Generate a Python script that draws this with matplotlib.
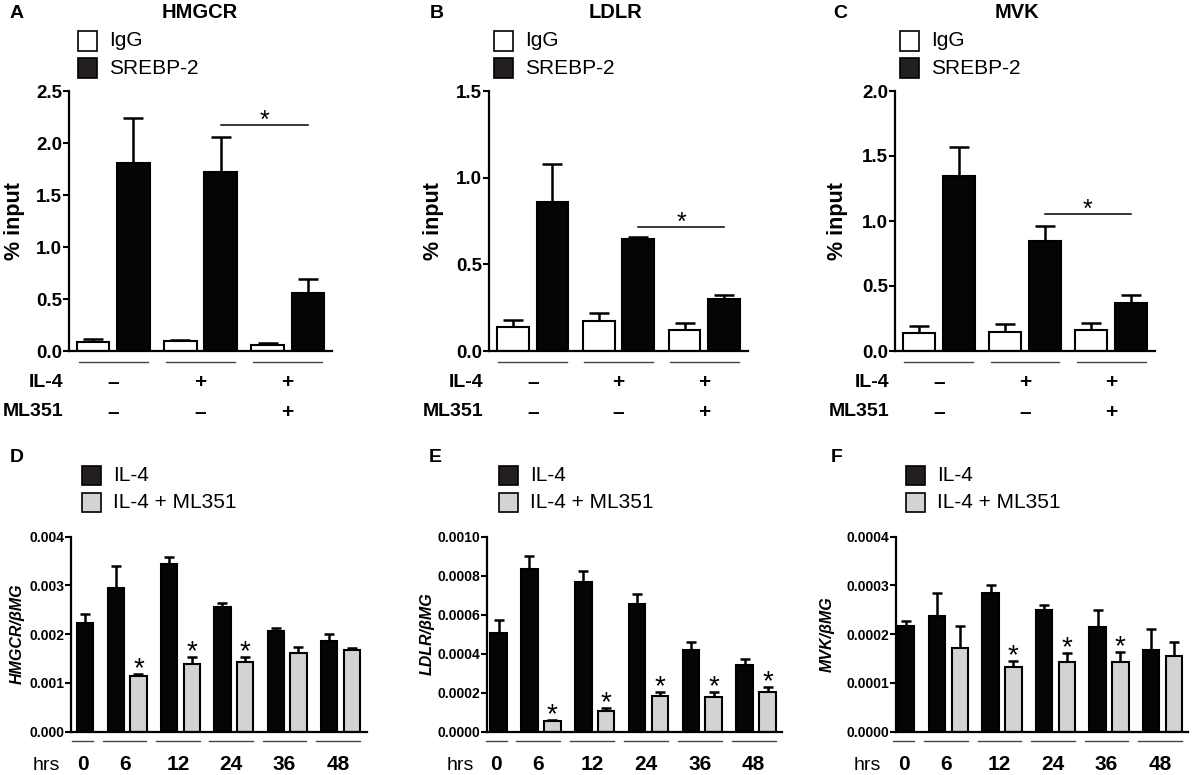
import numpy as np
import matplotlib
matplotlib.use("Agg")
import matplotlib.pyplot as plt
import matplotlib.transforms as mtransforms
from matplotlib.patches import Rectangle
from matplotlib.ticker import FormatStrFormatter, MultipleLocator

plt.rcParams['font.family'] = ['Liberation Sans', 'DejaVu Sans']

# ---------------- data ----------------
top_genes = ['HMGCR', 'LDLR', 'MVK']
top_letters = ['A', 'B', 'C']
il4_row = ['–', '+', '+']
ml351_row = ['–', '–', '+']

hmgcr_igg = [0.09, 0.10, 0.06]
hmgcr_igg_sem = [0.03, 0.01, 0.015]
hmgcr_srebp = [1.81, 1.72, 0.56]
hmgcr_srebp_sem = [0.43, 0.34, 0.13]

ldlr_igg = [0.137, 0.174, 0.12]
ldlr_igg_sem = [0.04, 0.044, 0.044]
ldlr_srebp = [0.86, 0.647, 0.30]
ldlr_srebp_sem = [0.22, 0.008, 0.025]

mvk_igg = [0.14, 0.146, 0.16]
mvk_igg_sem = [0.05, 0.064, 0.055]
mvk_srebp = [1.344, 0.85, 0.37]
mvk_srebp_sem = [0.226, 0.11, 0.06]

top_sig_y = [2.17, 0.716, 1.057]
top_ymax = [2.5, 1.5, 2.0]
top_ystep = [0.5, 0.5, 0.5]

hours = ['0', '6', '12', '24', '36', '48']
bottom_letters = ['D', 'E', 'F']
bottom_ylabels = ['HMGCR/βMG', 'LDLR/βMG', 'MVK/βMG']

hmgcr_il4 = [0.00222, 0.00294, 0.00344, 0.00256, 0.00207, 0.00187]
hmgcr_il4_sem = [0.00019, 0.00046, 0.00015, 0.00009, 0.00006, 0.00013]
hmgcr_ml = [np.nan, 0.00114, 0.00139, 0.00142, 0.00161, 0.00168]
hmgcr_ml_sem = [np.nan, 0.00004, 0.00015, 0.00012, 0.00013, 0.00003]
hmgcr_star = [False, True, True, True, False, False]

ldlr_il4 = [0.000505, 0.000833, 0.000766, 0.000653, 0.000419, 0.000342]
ldlr_il4_sem = [0.000068, 0.00007, 0.00006, 0.000053, 0.000039, 0.000031]
ldlr_ml = [np.nan, 0.000055, 0.000108, 0.000185, 0.00018, 0.000202]
ldlr_ml_sem = [np.nan, 0.000005, 0.000012, 0.00002, 0.000025, 0.000026]
ldlr_star = [False, True, True, True, True, True]

mvk_il4 = [0.000217, 0.000237, 0.000285, 0.00025, 0.000215, 0.000168]
mvk_il4_sem = [0.000011, 0.000047, 0.000016, 0.00001, 0.000035, 0.000042]
mvk_ml = [np.nan, 0.000172, 0.000133, 0.000144, 0.000144, 0.000156]
mvk_ml_sem = [np.nan, 0.000045, 0.000012, 0.000017, 0.000019, 0.000029]
mvk_star = [False, False, True, True, True, False]

bottom_ymax = [0.004, 0.0010, 0.0004]
bottom_ystep = [0.001, 0.0002, 0.0001]
bottom_fmt = ['%.3f', '%.4f', '%.4f']

# ---------------- layout helpers ----------------
W, H = 1192, 775
fig = plt.figure(figsize=(W / 100, H / 100), dpi=100)


def fx(x):
    return x / W


def fy(y):
    return 1 - y / H


def add_ax(l, r, t, b):
    return fig.add_axes([l / W, 1 - b / H, (r - l) / W, (b - t) / H])


def T(x, y, s, **kw):
    return fig.text(fx(x), fy(y), s, **kw)


BLACK = '#050505'
DARK = '#231f20'
GRAY = '#d3d3d3'


def style_axis(ax, fs):
    for s in ['top', 'right']:
        ax.spines[s].set_visible(False)
    for s in ['left', 'bottom']:
        ax.spines[s].set_linewidth(1.6)
    ax.tick_params(axis='y', direction='out', length=4, width=1.5, labelsize=fs, pad=1)
    ax.tick_params(axis='x', length=0, labelbottom=False)
    for lab in ax.get_yticklabels():
        lab.set_fontweight('bold')


def legend(x_box, y1, y2, labels, colors):
    for y, lab, c in zip([y1, y2], labels, colors):
        fig.patches.append(Rectangle((fx(x_box), fy(y + 9.5)), 19 / W, 19 / H,
                                     transform=fig.transFigure, facecolor=c,
                                     edgecolor='black', linewidth=1.2))
        T(x_box + 31, y, lab, fontsize=15, ha='left', va='center')


# ---------------- top row ----------------
top_igg = [hmgcr_igg, ldlr_igg, mvk_igg]
top_igg_sem = [hmgcr_igg_sem, ldlr_igg_sem, mvk_igg_sem]
top_sre = [hmgcr_srebp, ldlr_srebp, mvk_srebp]
top_sre_sem = [hmgcr_srebp_sem, ldlr_srebp_sem, mvk_srebp_sem]

top_axes_px = [(69, 332), (489, 748), (895, 1155)]
top_letter_x = [10, 430, 833]
top_title_x = [200, 615, 1017]
top_ylabel_x = [15, 433, 837]
top_legend_x = [78, 494, 900]

off = 0.23
bw = 0.37
for i in range(3):
    l, r = top_axes_px[i]
    ax = add_ax(l, r, 91, 351)
    xg = np.arange(3)
    ax.errorbar(xg - off, top_igg[i], yerr=[np.zeros(3), top_igg_sem[i]], fmt='none',
                ecolor='black', elinewidth=1.8, capsize=7, capthick=1.8, zorder=1)
    ax.errorbar(xg + off, top_sre[i], yerr=[np.zeros(3), top_sre_sem[i]], fmt='none',
                ecolor='black', elinewidth=1.8, capsize=7, capthick=1.8, zorder=1)
    ax.bar(xg - off, top_igg[i], width=bw, color='white', edgecolor='black', linewidth=1.5, zorder=2)
    ax.bar(xg + off, top_sre[i], width=bw, color=BLACK, edgecolor='black', linewidth=1.5, zorder=2)
    ax.set_xlim(-0.51, 2.51)
    ax.set_ylim(0, top_ymax[i])
    ax.yaxis.set_major_locator(MultipleLocator(top_ystep[i]))
    ax.yaxis.set_major_formatter(FormatStrFormatter('%.1f'))
    style_axis(ax, 13.5)
    # significance
    sy = top_sig_y[i]
    ax.plot([1 + off, 2 + off], [sy, sy], color='black', lw=1.1, clip_on=False)
    ax.annotate('*', xy=(1.5 + off, sy), xytext=(0, -2), textcoords='offset points',
                ha='center', va='baseline', fontsize=18)
    # condition rows
    trans = mtransforms.blended_transform_factory(ax.transData, fig.transFigure)
    for g in range(3):
        ax.plot([g - 0.4, g + 0.4], [fy(362), fy(362)], color='#444444', lw=1.0,
                transform=trans, clip_on=False)
        ax.text(g, fy(383), il4_row[g], transform=trans, ha='center', va='center',
                fontsize=15, fontweight='bold')
        ax.text(g, fy(412), ml351_row[g], transform=trans, ha='center', va='center',
                fontsize=15, fontweight='bold')
    T(l - 6, 383, 'IL-4', ha='right', va='center', fontsize=14, fontweight='bold')
    T(l - 6, 412, 'ML351', ha='right', va='center', fontsize=14, fontweight='bold')
    T(top_letter_x[i], 13, top_letters[i], ha='left', va='center', fontsize=14, fontweight='bold')
    T(top_title_x[i], 13, top_genes[i], ha='center', va='center', fontsize=14.5, fontweight='bold')
    T(top_ylabel_x[i], 221, '% input', ha='center', va='center', rotation=90,
      fontsize=15.5, fontweight='bold')
    legend(top_legend_x[i], 41, 68, ['IgG', 'SREBP-2'], ['white', DARK])

# ---------------- bottom row ----------------
bot_il4 = [hmgcr_il4, ldlr_il4, mvk_il4]
bot_il4_sem = [hmgcr_il4_sem, ldlr_il4_sem, mvk_il4_sem]
bot_ml = [hmgcr_ml, ldlr_ml, mvk_ml]
bot_ml_sem = [hmgcr_ml_sem, ldlr_ml_sem, mvk_ml_sem]
bot_star = [hmgcr_star, ldlr_star, mvk_star]

bot_axes_px = [(71, 367), (486.7, 781.7), (896, 1188)]
bot_margins = [(0.62, 0.67), (0.52, 0.62), (0.45, 0.62)]
bot_letter_x = [5, 424, 826]
bot_ylabel_x = [17, 427, 827]
bot_legend_x = [82, 499, 906]
bot_hrs_x = [46, 460, 867]

gap = 1.35
bwb = 0.72
for i in range(3):
    il4 = np.array(bot_il4[i], dtype=float)
    ml = np.array(bot_ml[i], dtype=float)
    pos_il4, pos_ml, centers, spans = [], [], [], []
    x = 0.0
    for k in range(len(hours)):
        pos_il4.append(x)
        if np.isnan(ml[k]):
            pos_ml.append(np.nan)
            last = x
        else:
            pos_ml.append(x + 1)
            last = x + 1
        spans.append((x - 0.57, last + 0.35))
        centers.append((x - 0.57 + last + 0.35) / 2)
        x = last + gap
    pos_il4 = np.array(pos_il4)
    pos_ml = np.array(pos_ml)
    ok = ~np.isnan(ml)

    l, r = bot_axes_px[i]
    ax = add_ax(l, r, 536.7, 731.7)
    ax.errorbar(pos_il4, il4, yerr=[np.zeros(len(il4)), bot_il4_sem[i]], fmt='none',
                ecolor='black', elinewidth=1.8, capsize=3.3, capthick=1.8, zorder=1)
    ax.errorbar(pos_ml[ok], ml[ok], yerr=[np.zeros(ok.sum()), np.array(bot_ml_sem[i])[ok]],
                fmt='none', ecolor='black', elinewidth=1.8, capsize=3.3, capthick=1.8, zorder=1)
    ax.bar(pos_il4, il4, width=bwb, color=BLACK, edgecolor='black', linewidth=1.5, zorder=2)
    ax.bar(pos_ml[ok], ml[ok], width=bwb, color=GRAY, edgecolor='black', linewidth=1.5, zorder=2)
    lm, rm = bot_margins[i]
    ax.set_xlim(-lm, pos_ml[-1] + rm)
    ax.set_ylim(0, bottom_ymax[i])
    ax.yaxis.set_major_locator(MultipleLocator(bottom_ystep[i]))
    ax.yaxis.set_major_formatter(FormatStrFormatter(bottom_fmt[i]))
    style_axis(ax, 10)
    semml = np.array(bot_ml_sem[i])
    for k in range(len(hours)):
        if bot_star[i][k]:
            ax.annotate('*', xy=(pos_ml[k], ml[k] + semml[k]), xytext=(0, -1.5),
                        textcoords='offset points', ha='center', va='baseline', fontsize=20)
    trans = mtransforms.blended_transform_factory(ax.transData, fig.transFigure)
    for k in range(len(hours)):
        a, b = spans[k]
        ax.plot([a, b], [fy(740.7), fy(740.7)], color='#444444', lw=1.0,
                transform=trans, clip_on=False)
        ax.text(centers[k], fy(765), hours[k], transform=trans, ha='center', va='center',
                fontsize=15, fontweight='bold')
    T(bot_hrs_x[i], 765, 'hrs', ha='center', va='center', fontsize=14)
    T(bot_letter_x[i] + 5, 457, bottom_letters[i], ha='left', va='center', fontsize=14, fontweight='bold')
    T(bot_ylabel_x[i], 634, bottom_ylabels[i], ha='center', va='center', rotation=90,
      fontsize=11.5, fontweight='bold', fontstyle='italic')
    legend(bot_legend_x[i], 475.5, 502, ['IL-4', 'IL-4 + ML351'], [DARK, GRAY])

fig.savefig('out.png', dpi=100)
